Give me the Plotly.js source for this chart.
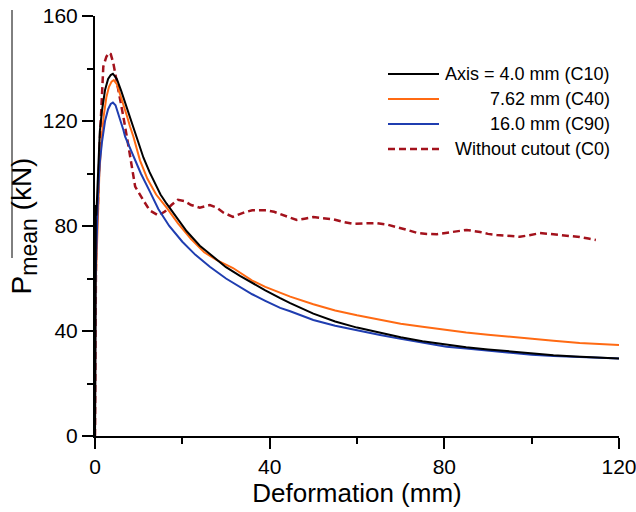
<!DOCTYPE html>
<html>
<head>
<meta charset="utf-8">
<script src="https://cdn.plot.ly/plotly-3.0.1.min.js"></script>
<style>html,body{margin:0;padding:0;background:#fff;}#chart{width:636px;height:512px;}</style>
</head>
<body>
<div id="chart"></div>
<script>
// ---- data ----
var seriesNames = ["Axis = 4.0 mm (C10)", "7.62 mm (C40)", "16.0 mm (C90)", "Without cutout (C0)"];

var c10X = [0, 0.1, 0.2, 0.3, 0.5, 0.8, 1.1, 1.6, 2.3, 3.0, 3.6, 4.1, 5, 6, 7, 8, 9, 10, 11.1, 12.5, 14, 15, 16.4, 18.5, 21, 24, 27.9, 30, 33.2, 36, 39, 42.4, 44.7, 50, 55, 60, 65.3, 70, 75, 80.5, 85, 90, 95.8, 100, 105, 110, 115, 120];
var c10Y = [0, 60, 88, 84, 92, 104, 116, 124, 131.8, 136, 137.5, 138, 136, 131.5, 126.5, 121, 116, 111, 106, 100.5, 95, 92, 88.5, 83.5, 78, 72.5, 67, 64.3, 61, 58.3, 55.5, 52.5, 50.6, 46.6, 43.6, 41.3, 39.3, 37.6, 36.1, 34.7, 33.8, 33, 32.1, 31.4, 30.8, 30.3, 29.9, 29.5];

var c40X = [0, 0.1, 0.3, 0.6, 1.0, 1.5, 2.0, 2.6, 3.2, 3.8, 4.3, 5.0, 5.7, 6.5, 7.3, 8.0, 8.8, 10.3, 12, 14, 16.4, 19, 22, 25, 27.9, 31.6, 33.2, 36, 39, 42.4, 44.7, 50, 55, 60, 65.3, 70, 75, 80.5, 85, 90, 95.8, 100, 105, 111, 115, 120];
var c40Y = [0, 55, 65, 82, 100, 113, 122, 129, 133, 135, 135.6, 134, 130.6, 126, 122, 118, 114, 105, 98, 92, 87, 81, 75, 70, 67, 64, 62.2, 59.2, 56.8, 54.6, 53.1, 50.2, 47.8, 46, 44.2, 42.8, 41.6, 40.4, 39.4, 38.6, 37.8, 37.1, 36.3, 35.4, 35.0, 34.7];

var c90X = [0, 0.1, 0.3, 0.7, 1.1, 1.6, 2.3, 3.0, 3.6, 4.1, 4.7, 5.5, 6.5, 6.9, 8.7, 10.5, 12.6, 14.5, 17, 20, 23, 26.3, 30, 33.2, 36, 39, 42.4, 44.7, 50, 55, 60, 65.3, 70, 75, 80.5, 85, 90, 95.8, 100, 105, 110, 115, 120];
var c90Y = [0, 58, 70, 92, 104, 112, 120, 124.5, 126.5, 127, 126, 122, 116.6, 114, 107, 100, 93, 86.5, 80, 74, 69, 64.5, 60, 56.9, 54, 51.5, 48.8, 47.5, 44.2, 42, 40.2, 38.5, 37, 35.6, 34, 33.3, 32.5, 31.6, 31, 30.5, 30.1, 29.8, 29.5];

var c0X = [0, 0.1, 0.3, 0.6, 1.1, 1.9, 2.6, 3.2, 3.6, 4.2, 4.8, 5.3, 6.5, 7.5, 9.2, 11, 12.5, 14.5, 16, 17.5, 19, 20.5, 22, 24, 26.3, 27.9, 29.5, 31.6, 33.9, 36, 39.3, 41, 43.9, 46.2, 48, 50, 52, 54.5, 57, 59.1, 62, 64.5, 67, 69, 71.5, 73.7, 76, 78.3, 81, 83, 85.1, 88.2, 90, 92, 95, 97.3, 99.5, 101.9, 104, 106.5, 109, 111, 113, 114.7];
var c0Y = [0, 62, 88, 84, 112, 140.7, 144.5, 146, 145.5, 142, 137, 133, 121.6, 112, 95, 90, 86, 84, 85.5, 88, 90, 89.5, 88, 87, 88, 87, 85, 83.5, 85, 86, 86, 85.4, 83.5, 82.3, 82.8, 83.4, 83, 82.6, 81.5, 80.8, 81, 81.1, 80.5, 79.7, 78.5, 77.4, 77, 76.9, 77.5, 78.2, 78.5, 77.7, 77, 76.6, 76.2, 75.9, 76.5, 77.3, 77, 76.6, 76.2, 75.8, 75.2, 74.7];

var xTickVals = [0, 40, 80, 120];
var yTickVals = [0, 40, 80, 120, 160];

// ---- styling ----
var colors = ["#000000", "#ff6a13", "#1f3db0", "#a3121c"];
var dashes = ["solid", "solid", "solid", "7px,4px"];
var widths = [2, 2, 2, 2.5];
var FONT = "Arial, 'Liberation Sans', Helvetica, sans-serif";

var xs = [c10X, c40X, c90X, c0X];
var ys = [c10Y, c40Y, c90Y, c0Y];
var order = [3, 1, 2, 0];
var traces = order.map(function (i) {
  return {
    x: xs[i], y: ys[i], type: "scatter", mode: "lines", name: seriesNames[i],
    line: {color: colors[i], width: widths[i], dash: dashes[i]},
    showlegend: false, hoverinfo: "skip"
  };
});

// custom legend (line samples + right-aligned labels), in paper coords
var L = 95, T = 16, W = 524, H = 420;
function px2x(p) { return (p - L) / W; }
function px2y(p) { return (T + H - p) / H; }
var rowY = [74, 99, 124, 149];
var shapes = [], annotations = [];
for (var i = 0; i < 4; i++) {
  shapes.push({type: "line", xref: "paper", yref: "paper",
    x0: px2x(388), x1: px2x(439), y0: px2y(rowY[i]), y1: px2y(rowY[i]),
    line: {color: colors[i], width: widths[i], dash: i === 3 ? "7px,4px" : "solid"}});
  annotations.push({xref: "paper", yref: "paper", x: px2x(612), y: px2y(rowY[i]),
    xanchor: "right", yanchor: "middle", showarrow: false, text: seriesNames[i],
    font: {family: FONT, size: 18, color: "#000"}});
}
// overbar of the y title (rotated, so vertical)
shapes.push({type: "line", xref: "paper", yref: "paper",
  x0: px2x(12), x1: px2x(12), y0: px2y(258), y1: px2y(10),
  line: {color: "#000", width: 1}});

var axisCommon = {
  showline: true, linecolor: "#000", linewidth: 2, mirror: false,
  showgrid: false, zeroline: false, ticks: "outside", ticklen: 11, tickwidth: 2, tickcolor: "#000",
  tickfont: {family: FONT, size: 21, color: "#000"}, tickmode: "array", fixedrange: true,
  ticklabeloverflow: "allow"
};

var layout = {
  width: 636, height: 512,
  margin: {l: L, r: 636 - L - W, t: T, b: 512 - T - H, pad: 0},
  paper_bgcolor: "#fff", plot_bgcolor: "#fff",
  font: {family: FONT, color: "#000"},
  xaxis: Object.assign({}, axisCommon, {
    range: [0, 120], tickvals: xTickVals, ticktext: xTickVals.map(String),
    minor: {tickmode: "array", tickvals: [20, 60, 100], ticks: "outside", ticklen: 6, tickwidth: 2, tickcolor: "#000", showgrid: false},
    title: {text: "Deformation (mm)", font: {family: FONT, size: 26, color: "#000"}, standoff: 4}
  }),
  yaxis: Object.assign({}, axisCommon, {
    range: [0, 160], tickvals: yTickVals, ticktext: yTickVals.map(String),
    minor: {tickmode: "array", tickvals: [20, 60, 100, 140], ticks: "outside", ticklen: 6, tickwidth: 2, tickcolor: "#000", showgrid: false},
    title: {text: "P<sub><span style=\"font-size:23px\">mean</span></sub> (kN)", font: {family: FONT, size: 28, color: "#000"}, standoff: 3}
  }),
  shapes: shapes,
  annotations: annotations,
  showlegend: false
};

Plotly.newPlot("chart", traces, layout, {staticPlot: true, displayModeBar: false});
</script>
</body>
</html>
